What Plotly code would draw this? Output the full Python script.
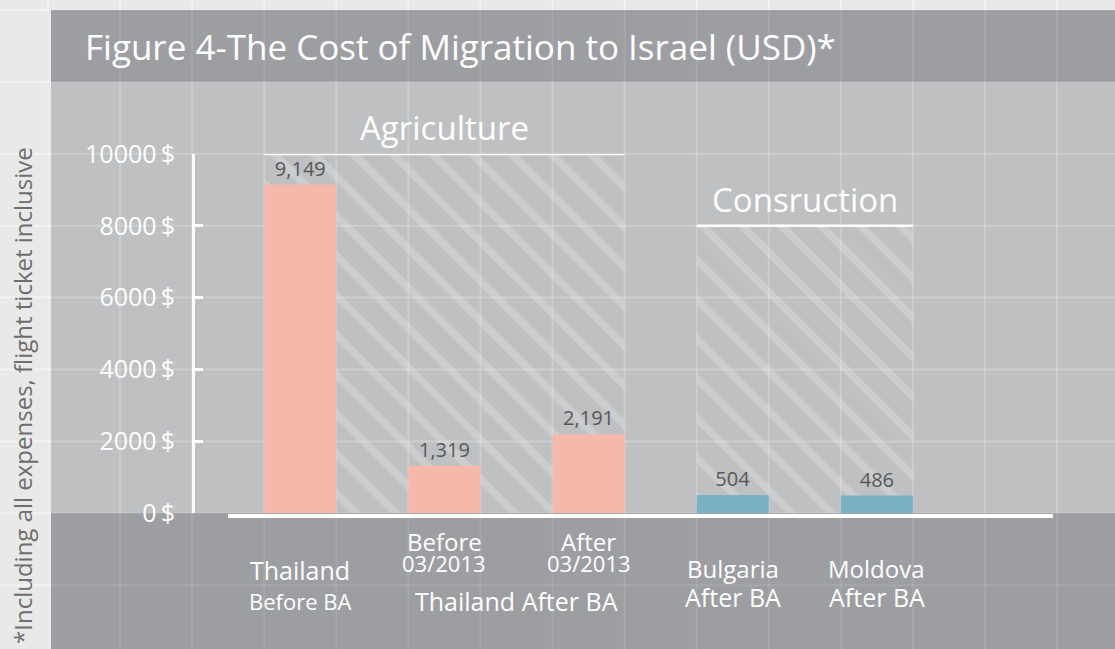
import plotly.graph_objects as go

# data
cat_main = ["Thailand", "Before", "After", "Bulgaria", "Moldova"]
cat_sub = ["Before BA", "03/2013", "03/2013", "After BA", "After BA"]
costs = [9149, 1319, 2191, 504, 486]
sector_names = ["Agriculture", "Consruction"]
sector_members = [[0, 1, 2], [3, 4]]
sector_bracket = [10000, 8000]
sub_group_label = "Thailand After BA"
sub_group_members = [1, 2]
y_ticks = [0, 2000, 4000, 6000, 8000, 10000]
title = "Figure 4-The Cost of Migration to Israel (USD)*"
footnote = "*Including all expenses, flight ticket inclusive"

PINK = "#f6b8aa"
BLUE = "#7ab1c5"
bar_colors = [PINK, PINK, PINK, BLUE, BLUE]

# page geometry (pixels)
W, H = 1115, 649
L, R, T, B = 195, 0, 154, 136
PW, PH = W - L - R, H - T - B
SLOT = 144.14
X0 = 300.3  # pixel centre of first category


def px(x):
    return (x - L) / PW


def py(y):
    return (H - B - y) / PH


xmin = -(X0 - L) / SLOT
xmax = xmin + PW / SLOT

FONT = "Open Sans, Liberation Sans, sans-serif"

fig = go.Figure()

# hatched sector backgrounds
for name, members, top in zip(sector_names, sector_members, sector_bracket):
    c = (members[0] + members[-1]) / 2
    w = members[-1] - members[0] + 0.5
    fig.add_trace(go.Bar(
        x=[c], y=[top], width=[w],
        marker=dict(color="rgba(0,0,0,0)", line=dict(width=0),
                    pattern=dict(shape="\\", fgcolor="white", fgopacity=0.2,
                                 bgcolor="rgba(0,0,0,0)", size=28, solidity=0.28)),
        hoverinfo="skip", showlegend=False))

fig.add_trace(go.Bar(
    x=list(range(len(costs))), y=costs, width=0.5,
    marker=dict(color=bar_colors, line=dict(width=0)),
    texttemplate="%{y:,}", textposition="outside",
    textfont=dict(family=FONT, size=20, color="#58585a"),
    cliponaxis=False, showlegend=False, hoverinfo="skip"))

shapes = []


def seg(x0, y0, x1, y1, alpha):
    shapes.append(dict(type="line", xref="paper", yref="paper", layer="below",
                       x0=px(x0), x1=px(x1), y0=py(y0), y1=py(y1),
                       line=dict(color=f"rgba(255,255,255,{alpha})", width=2)))


# panels
for y0, y1, col in [(10, 82, "#9d9ea2"), (82, 513, "#bfc0c2"), (513, H, "#9d9ea2")]:
    shapes.append(dict(type="rect", xref="paper", yref="paper", layer="below",
                       x0=px(51), x1=px(W), y0=py(y0), y1=py(y1),
                       fillcolor=col, line=dict(width=0)))

# page grid: faint everywhere, stronger on the plot band and the bare page
vx = [48 + 72.07 * k for k in range(16)]
hy = [10 + 71.9 * k for k in range(10)]
for gx in vx:
    seg(gx, 0, gx, H, 0.1)
    seg(gx, 82, gx, 513, 0.12)
    seg(gx, 0, gx, 10, 0.35)
for gy in hy:
    seg(0, gy, W, gy, 0.1)
    if 82 <= gy <= 513:
        seg(51, gy, W, gy, 0.12)
    seg(0, gy, 51, gy, 0.35)

# baseline
shapes.append(dict(type="line", xref="paper", yref="paper",
                   x0=px(228), x1=px(1053), y0=py(516), y1=py(516),
                   line=dict(color="white", width=4)))

annotations = []
# sector brackets
for name, members, top in zip(sector_names, sector_members, sector_bracket):
    shapes.append(dict(type="line", xref="x", yref="y",
                       x0=members[0] - 0.25, x1=members[-1] + 0.25, y0=top, y1=top,
                       line=dict(color="white", width=2.5)))
    annotations.append(dict(x=(members[0] + members[-1]) / 2, y=top, xref="x", yref="y",
                            text=name, showarrow=False, yanchor="bottom", yshift=2,
                            font=dict(family=FONT, size=33, color="white")))

# category labels
main_y = [570, 541, 541, 568, 568]
sub_y = [601, 563, 563, 597, 597]
main_size = [25, 24, 24, 24, 24]
sub_size = [22, 22, 22, 25, 25]
for i in range(len(cat_main)):
    annotations.append(dict(x=i, y=py(main_y[i]), xref="x", yref="paper",
                            text=cat_main[i], showarrow=False, yanchor="middle",
                            font=dict(family=FONT, size=main_size[i], color="white")))
    annotations.append(dict(x=i, y=py(sub_y[i]), xref="x", yref="paper",
                            text=cat_sub[i], showarrow=False, yanchor="middle",
                            font=dict(family=FONT, size=sub_size[i], color="white")))
annotations.append(dict(x=sum(sub_group_members) / len(sub_group_members), y=py(601),
                        xref="x", yref="paper", text=sub_group_label, showarrow=False,
                        yanchor="middle", font=dict(family=FONT, size=25, color="white")))

# title and footnote
annotations.append(dict(x=px(83), y=py(46), xref="paper", yref="paper", text=title,
                        showarrow=False, xanchor="left", yanchor="middle",
                        font=dict(family=FONT, size=35, color="white")))
annotations.append(dict(x=px(22), y=py(396), xref="paper", yref="paper", text=footnote,
                        showarrow=False, textangle=-90, xanchor="center", yanchor="middle",
                        font=dict(family=FONT, size=24, color="#6e6e6e")))

fig.update_layout(
    width=W, height=H,
    margin=dict(l=L, r=R, t=T, b=B),
    paper_bgcolor="#e9e9e9",
    plot_bgcolor="rgba(0,0,0,0)",
    barmode="overlay",
    shapes=shapes,
    annotations=annotations,
    font=dict(family=FONT),
    xaxis=dict(range=[xmin, xmax], visible=False, fixedrange=True),
    yaxis=dict(range=[0, 10000], tickvals=y_ticks,
               ticktext=[f"{v}\u2009$" for v in y_ticks],
               showgrid=False, zeroline=False,
               showline=True, linecolor="white", linewidth=3,
               ticks="inside", ticklen=8, tickwidth=3, tickcolor="white",
               tickfont=dict(family=FONT, size=25, color="white"),
               ticklabelstandoff=12, fixedrange=True),
)

fig.write_html("out.html", config={"displayModeBar": False},
               post_script="document.body.style.margin='0';")
